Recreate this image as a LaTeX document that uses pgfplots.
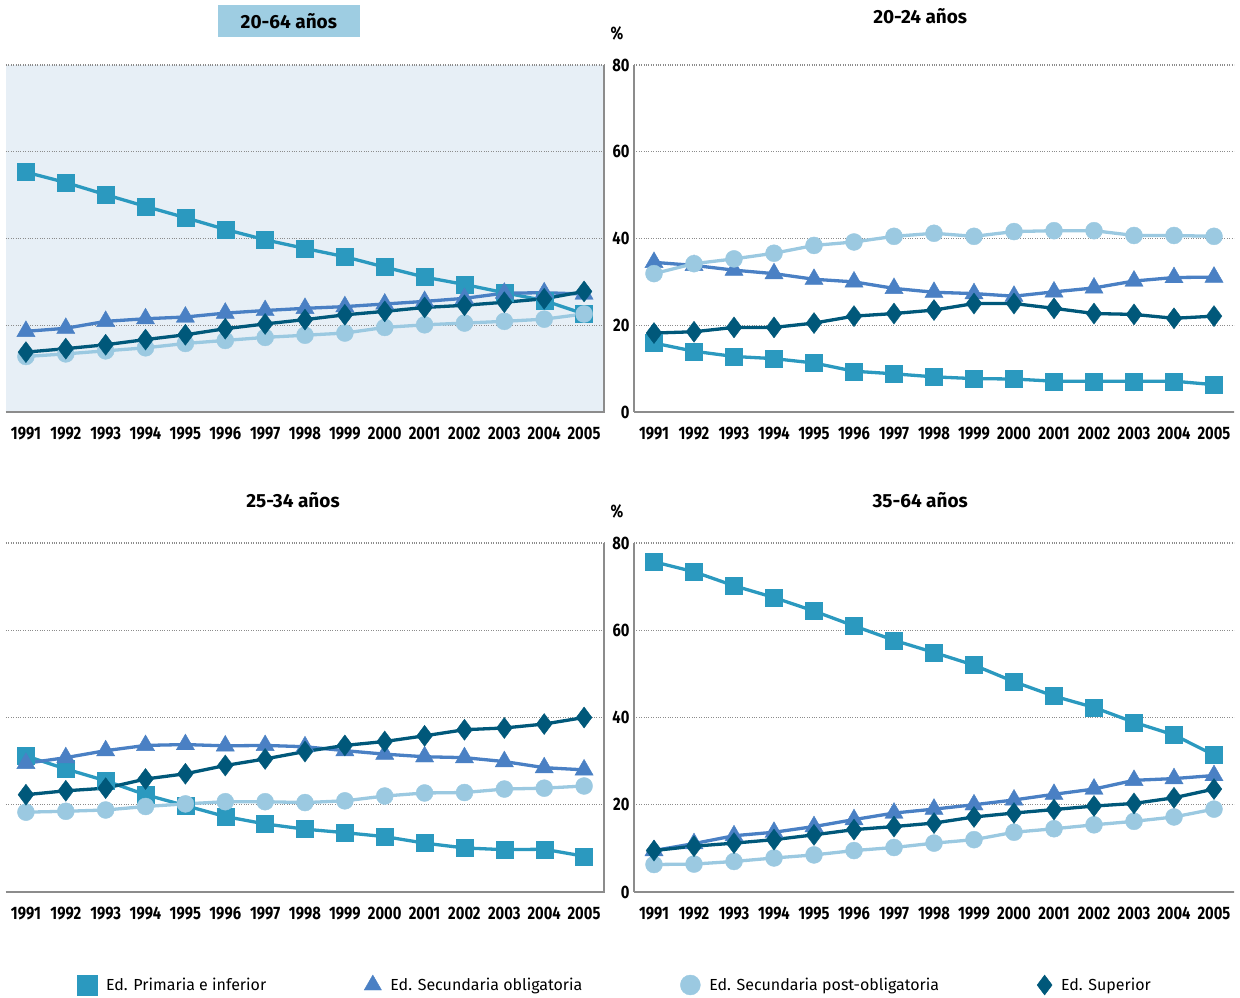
\documentclass[border=0pt]{standalone}
\usepackage{pgfplots}
\usepackage{pgfplotstable}
\pgfplotsset{compat=1.18}
\usepackage{fontspec}
\setmainfont{Fira Sans}
\newfontfamily\condfont{Fira Sans}[FakeStretch=0.82]

\definecolor{prim}{HTML}{2B99BF}
\definecolor{secob}{HTML}{4A80C4}
\definecolor{post}{HTML}{9BC9E1}
\definecolor{sup}{HTML}{00587A}
\definecolor{bgblue}{HTML}{E7EFF6}
\definecolor{titlebox}{HTML}{9ECDE2}
\definecolor{axgray}{HTML}{8C8C8C}

\pgfplotstableread{
year prim secob post sup
1991 55.3 18.6 12.8 13.8
1992 52.9 19.3 13.4 14.6
1993 50.1 20.9 14.1 15.5
1994 47.4 21.5 14.8 16.7
1995 44.8 21.9 15.8 17.8
1996 42.1 22.8 16.5 19.2
1997 39.7 23.4 17.2 20.3
1998 37.7 23.9 17.7 21.3
1999 35.8 24.3 18.2 22.4
2000 33.4 24.9 19.5 23.2
2001 31.1 25.5 20.1 24.1
2002 29.4 26.2 20.5 24.6
2003 27.5 27.4 20.9 25.3
2004 25.7 27.5 21.4 26.1
2005 22.6 27.2 22.6 27.8
}\tA

\pgfplotstableread{
year prim secob post sup
1991 15.9 34.5 31.9 18.2
1992 14.0 33.8 34.2 18.5
1993 12.8 32.7 35.3 19.5
1994 12.3 31.9 36.6 19.5
1995 11.3 30.6 38.4 20.5
1996 9.4 30.0 39.2 22.1
1997 8.8 28.5 40.5 22.7
1998 8.1 27.6 41.2 23.5
1999 7.7 27.3 40.5 25.0
2000 7.6 26.7 41.6 25.0
2001 7.1 27.7 41.8 23.9
2002 7.1 28.6 41.8 22.7
2003 7.1 30.2 40.7 22.5
2004 7.1 31.0 40.7 21.6
2005 6.3 31.1 40.5 22.1
}\tB

\pgfplotstableread{
year prim secob post sup
1991 31.2 29.5 18.3 22.3
1992 28.2 30.8 18.5 23.2
1993 25.5 32.4 18.8 23.8
1994 22.3 33.6 19.6 25.9
1995 19.8 33.8 20.2 27.1
1996 17.3 33.5 20.7 29.0
1997 15.6 33.6 20.7 30.5
1998 14.4 33.3 20.5 32.2
1999 13.6 32.4 20.9 33.6
2000 12.7 31.6 22.0 34.5
2001 11.2 31.0 22.7 35.8
2002 10.1 30.8 22.8 37.2
2003 9.7 29.9 23.6 37.6
2004 9.8 28.5 23.8 38.5
2005 8.2 28.0 24.3 40.0
}\tC

\pgfplotstableread{
year prim secob post sup
1991 75.7 9.5 6.3 9.5
1992 73.4 11.1 6.4 10.5
1993 70.2 12.9 7.0 11.2
1994 67.5 13.7 7.8 12.0
1995 64.4 15.0 8.5 13.1
1996 61.0 16.6 9.5 14.3
1997 57.7 18.1 10.2 15.0
1998 54.9 19.0 11.2 15.8
1999 52.0 20.0 12.0 17.2
2000 48.2 21.1 13.7 18.1
2001 44.9 22.4 14.5 18.9
2002 42.3 23.6 15.4 19.7
2003 38.9 25.6 16.2 20.3
2004 36.0 26.0 17.2 21.6
2005 31.4 26.7 19.0 23.6
}\tD

\pgfplotsset{
  panel/.style={
    scale only axis, anchor=south west,
    xmin=1990.5, xmax=2005.5, ymin=0, ymax=80,
    xtick={1991,...,2005}, ytick={0,20,40,60,80},
    major tick length=0pt,
    /pgf/number format/1000 sep={},
    /pgf/number format/assume math mode=true,
    ticklabel style={font=\condfont\fontsize{18}{20}\selectfont\bfseries},
    xticklabel style={yshift=-11pt, text height=12.5pt, text depth=0pt},
    ymajorgrids, grid style={dotted, line width=1.3pt, color=axgray},
    axis x line*=bottom,
    axis line style={draw=axgray, line width=2.5pt},
    title style={font=\fontsize{19}{21}\selectfont\bfseries, anchor=center},
    clip=false,
  },
  leftpanel/.style={panel, width=598pt, axis y line*=right, yticklabels={}},
  rightpanel/.style={panel, width=600pt, axis y line*=left, yticklabel style={anchor=east, xshift=-1pt}},
  sprim/.style={color=prim, line width=3.3pt, mark=square*, mark size=8.5pt, mark options={solid, line width=0.4pt}},
  ssecob/.style={color=secob, line width=3.3pt, mark=triangle*, mark size=10.5pt, mark options={solid, line width=0.4pt}},
  spost/.style={color=post, line width=3.3pt, mark=*, mark size=8.5pt, mark options={solid, line width=0.4pt}},
  ssup/.style={color=sup, line width=3.3pt, mark=diamond*, mark size=10.5pt, mark options={solid, line width=0.4pt}},
}

\begin{document}
\begin{tikzpicture}
\useasboundingbox (0pt,0pt) rectangle (1240pt,997pt);

% Top-left: 20-64
\begin{axis}[leftpanel, at={(6pt,585pt)}, height=347pt,
  axis background/.style={fill=bgblue}]
  \addplot[sprim] table[x=year,y=prim] {\tA};
  \addplot[ssecob] table[x=year,y=secob] {\tA};
  \addplot[spost] table[x=year,y=post] {\tA};
  \addplot[ssup] table[x=year,y=sup] {\tA};
  \node[fill=titlebox, minimum width=142pt, minimum height=32pt, inner sep=0pt,
        font=\fontsize{19}{21}\selectfont\bfseries]
        at (rel axis cs:0.473,1) [yshift=44pt] {20-64 años};
\end{axis}

% Top-right: 20-24
\begin{axis}[rightpanel, at={(634pt,585pt)}, height=347pt,
  title={20-24 años}, title style={at={(0.477,1)}, yshift=43pt}]
  \addplot[sprim] table[x=year,y=prim] {\tB};
  \addplot[ssecob] table[x=year,y=secob] {\tB};
  \addplot[spost] table[x=year,y=post] {\tB};
  \addplot[ssup] table[x=year,y=sup] {\tB};
  \node[font=\condfont\fontsize{18}{20}\selectfont\bfseries] at (rel axis cs:0,1) [xshift=-17pt, yshift=32pt] {\%};
\end{axis}

% Bottom-left: 25-34
\begin{axis}[leftpanel, at={(6pt,105pt)}, height=349pt,
  title={25-34 años}, title style={at={(0.48,1)}, yshift=37pt},
  legend columns=4,
  legend style={at={(0.1137,-0.2665)}, anchor=west, draw=none, fill=none,
    font=\fontsize{16}{18}\selectfont,
    /tikz/every odd column/.append style={column sep=7pt},
    /tikz/every even column/.append style={column sep=96pt}},
  legend image code/.code={\draw[#1, only marks, mark size=10pt] plot coordinates {(0pt,0pt)};}]
  \addplot[sprim] table[x=year,y=prim] {\tC};
  \addplot[ssecob] table[x=year,y=secob] {\tC};
  \addplot[spost] table[x=year,y=post] {\tC};
  \addplot[ssup] table[x=year,y=sup] {\tC};
  \legend{Ed. Primaria e inferior, Ed. Secundaria obligatoria, Ed. Secundaria post-obligatoria, Ed. Superior}
\end{axis}

% Bottom-right: 35-64
\begin{axis}[rightpanel, at={(634pt,105pt)}, height=349pt,
  title={35-64 años}, title style={at={(0.477,1)}, yshift=37pt}]
  \addplot[sprim] table[x=year,y=prim] {\tD};
  \addplot[ssecob] table[x=year,y=secob] {\tD};
  \addplot[spost] table[x=year,y=post] {\tD};
  \addplot[ssup] table[x=year,y=sup] {\tD};
  \node[font=\condfont\fontsize{18}{20}\selectfont\bfseries] at (rel axis cs:0,1) [xshift=-17pt, yshift=32pt] {\%};
\end{axis}
\end{tikzpicture}
\end{document}
